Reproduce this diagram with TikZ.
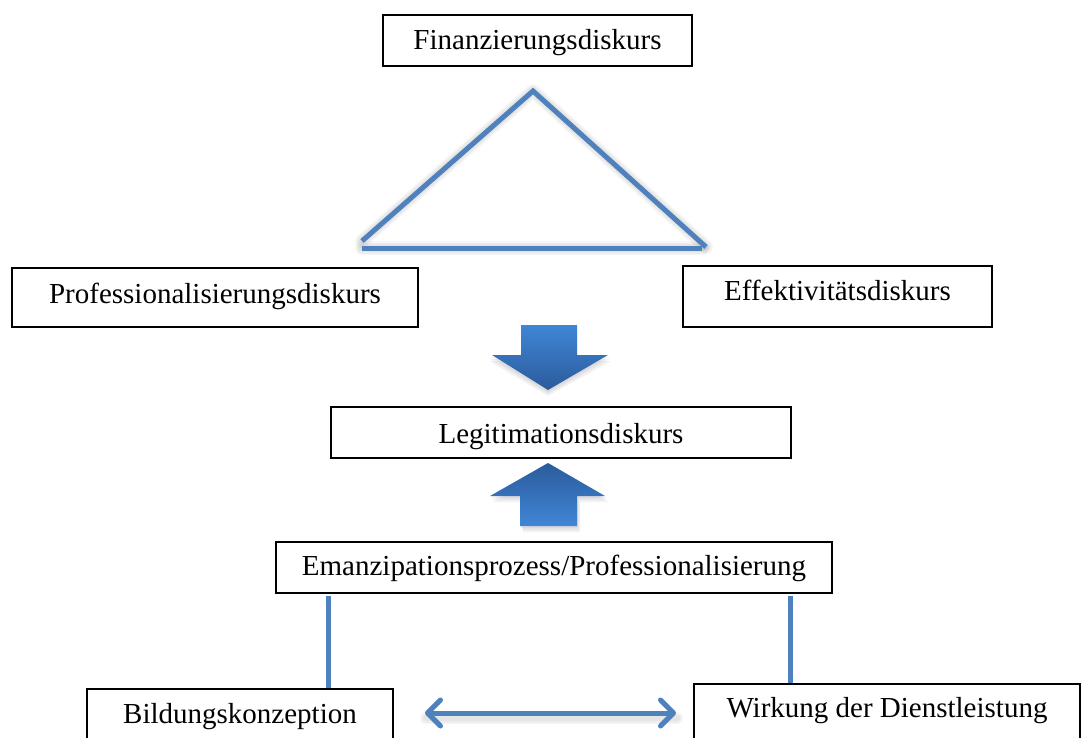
\documentclass[tikz,border=0pt]{standalone}
\usepackage{fontspec}
\setmainfont{Liberation Serif}
\usetikzlibrary{arrows.meta}
\definecolor{lineblue}{HTML}{4F81BD}
\definecolor{arrowlight}{HTML}{4086D6}
\definecolor{arrowdark}{HTML}{2B5B9C}

\begin{document}
\begin{tikzpicture}[x=1pt, y=-1pt,
  box/.style={draw=black, line width=1.4pt, fill=white, inner sep=0pt,
    text height=19pt, text depth=0pt, font=\fontsize{29}{34}\selectfont},
  link/.style={draw=lineblue, line width=5pt},
  haze/.style={draw=black, opacity=0.035, line cap=round, line join=round},
  blockshadow/.style={fill=black, opacity=0.05},
  dblarrow/.style={link, {Straight Barb[round,length=13pt,width=26pt]}-{Straight Barb[round,length=13pt,width=26pt]}},
]
\useasboundingbox (0,0) rectangle (1089,738);
\clip (0,0) rectangle (1089,738);

% discourse boxes
\node[box, minimum width=309pt, minimum height=51pt] (fin) at (537.5,40.5) {Finanzierungsdiskurs};
\node[box, minimum width=406pt, minimum height=59pt, text depth=8pt] (prof) at (215,297.5) {Professionalisierungsdiskurs};
\node[box, minimum width=309pt, minimum height=61pt, text depth=12pt] (eff) at (837.5,296.5) {Effektivitätsdiskurs};
\node[box, minimum width=460pt, minimum height=51pt, text height=21pt] (leg) at (561,432.5) {Legitimationsdiskurs};
\node[box, minimum width=556pt, minimum height=51pt, text depth=4pt] (emanz) at (554,567.5) {Emanzipationsprozess/Professionalisierung};
\node[box, minimum width=306pt, minimum height=71pt, text depth=22pt] (bild) at (240,724.5) {Bildungskonzeption};
\node[box, minimum width=386pt, minimum height=76pt, text depth=29pt] (wirk) at (887,722) {Wirkung der Dienstleistung};

% triangle of the three discourses, with a soft shadow
\coordinate (tA) at (533,91);
\coordinate (tL) at (362,241);
\coordinate (tR) at (706,247);
\coordinate (bL) at (362,248);
\coordinate (bR) at (702,248);
\begin{scope}[shift={(1,5)}]
  \foreach \w in {14,11,8,5} {
    \draw[haze, line width=\w pt] (tL) -- (tA) -- (tR);
    \draw[haze, line width=\w pt] (bL) -- (bR);
  }
\end{scope}
\draw[link] (tL) -- (tA) -- (tR);
\draw[link] (bL) -- (bR);

% block arrow down into the legitimation discourse
\foreach \d in {2,4,6} {
  \fill[blockshadow] (521,325+\d) -- (577,325+\d) -- (577,355+\d) -- (608+\d/2,355+\d) -- (548,390+\d) -- (492-\d/2,355+\d) -- (521,355+\d) -- cycle;
}
\shade[top color=arrowlight, bottom color=arrowdark]
  (521,325) -- (577,325) -- (577,355) -- (608,355) -- (548,390) -- (492,355) -- (521,355) -- cycle;

% block arrow up from the emancipation process
\foreach \d in {2,4,6} {
  \fill[blockshadow] (548+\d/2,463+\d) -- (605+\d/2,496+\d) -- (577+\d/2,496+\d) -- (577+\d/2,526+\d) -- (520+\d/2,526+\d) -- (520+\d/2,496+\d) -- (490+\d/2,496+\d) -- cycle;
}
\shade[top color=arrowdark, bottom color=arrowlight]
  (548,463) -- (605,496) -- (577,496) -- (577,526) -- (520,526) -- (520,496) -- (490,496) -- cycle;

% links down to the two lower boxes
\coordinate (vl) at (328,596);
\coordinate (vr) at (790,596);
\draw[link] (vl) -- (vl |- bild.north);
\draw[link] (vr) -- (vr |- wirk.north);

% mutual relation between the lower boxes
\coordinate (dl) at (425,713);
\coordinate (dr) at (676,713);
\foreach \w in {12,9,6} {
  \draw[haze, line width=\w pt] ([shift={(1,5)}]dl) -- ([shift={(1,5)}]dr);
}
\draw[dblarrow] (dl) -- (dr);
\end{tikzpicture}
\end{document}
